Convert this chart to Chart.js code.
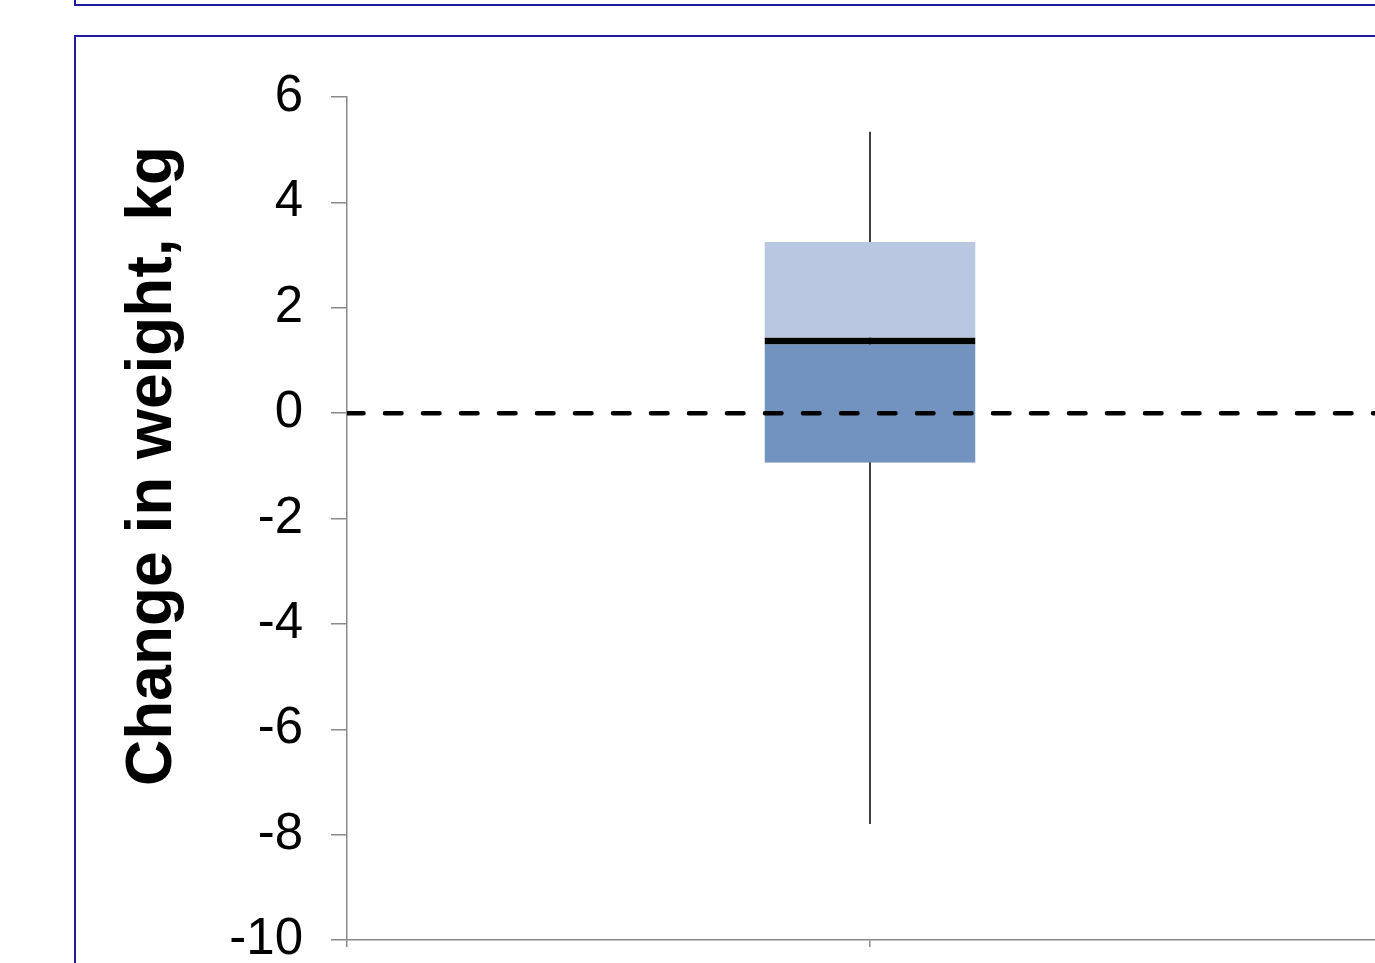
<!DOCTYPE html>
<html>
<head>
<meta charset="utf-8">
<script src="https://cdn.jsdelivr.net/npm/chart.js@4.4.1/dist/chart.umd.min.js"></script>
<style>
    html, body { margin: 0; padding: 0; background: #fff; overflow: hidden; width: 1375px; height: 963px; }
    .frame { position: absolute; border: 2px solid #1c1c9c; box-sizing: border-box; }
    #frameTop { left: 74px; top: -100px; width: 2000px; height: 106px; }
    #frameMain { left: 74px; top: 35px; width: 2000px; height: 2000px; }
    #boxChart { position: absolute; left: 0; top: 0; }
</style>
</head>
<body>
<div class="frame" id="frameTop"></div>
<div class="frame" id="frameMain"></div>
<canvas id="boxChart" width="1413" height="1000"></canvas>
<script>
// values
const boxPositions = [1];
const lowerQuartile = [-0.94];
const medianValues = [1.37];
const upperQuartile = [3.25];
const whiskerLow = [-7.8];
const whiskerHigh = [5.34];
const referenceValue = 0;
const yTickValues = [-10, -8, -6, -4, -2, 0, 2, 4, 6];
const yTitle = 'Change in weight, kg';

const axisGrey = '#898989';

// y axis title sits a little above the axis middle, so it is drawn by hand
const axisTitle = {
    id: 'axisTitle',
    afterDraw(chart) {
        const ctx = chart.ctx;
        ctx.save();
        ctx.translate(171, 466);
        ctx.rotate(-Math.PI / 2);
        ctx.font = 'bold 64px "Liberation Sans", Arial, sans-serif';
        ctx.fillStyle = '#000';
        ctx.textAlign = 'center';
        ctx.textBaseline = 'alphabetic';
        ctx.fillText(yTitle, 0, 0);
        ctx.restore();
    }
};

const boxCtx = document.getElementById('boxChart').getContext('2d');
new Chart(boxCtx, {
    type: 'bar',
    data: {
        datasets: [
            {
                type: 'line',
                label: 'Zero',
                data: [{ x: 0, y: referenceValue }, { x: 2, y: referenceValue }],
                borderColor: '#000',
                borderWidth: 4.5,
                borderDash: [16.5, 21.5],
                borderCapStyle: 'round',
                pointRadius: 0,
                order: 0
            },
            {
                label: 'Lower box',
                data: boxPositions.map((p, i) => ({ x: p, y: [lowerQuartile[i], medianValues[i]] })),
                backgroundColor: '#7293bf',
                borderColor: '#000',
                borderWidth: { top: 3.5, right: 0, bottom: 0, left: 0 },
                borderSkipped: false,
                inflateAmount: 0,
                barThickness: 211,
                grouped: false,
                order: 1
            },
            {
                label: 'Upper box',
                data: boxPositions.map((p, i) => ({ x: p, y: [medianValues[i], upperQuartile[i]] })),
                backgroundColor: '#b9c7e1',
                borderColor: '#000',
                borderWidth: { top: 0, right: 0, bottom: 3.5, left: 0 },
                borderSkipped: false,
                inflateAmount: 0,
                barThickness: 211,
                grouped: false,
                order: 1
            },
            {
                type: 'line',
                label: 'Whisker',
                data: [{ x: boxPositions[0], y: whiskerLow[0] }, { x: boxPositions[0], y: whiskerHigh[0] }],
                borderColor: '#000',
                borderWidth: 1.5,
                pointRadius: 0,
                order: 2
            }
        ]
    },
    options: {
        responsive: false,
        animation: false,
        layout: { padding: { top: 97, right: 20, bottom: 0, left: 0 } },
        plugins: { legend: { display: false }, tooltip: { enabled: false } },
        scales: {
            x: {
                type: 'linear',
                min: 0,
                max: 2,
                offset: false,
                ticks: { display: false, stepSize: 1 },
                grid: { offset: false, drawOnChartArea: false, drawTicks: true, tickLength: 7, color: axisGrey, lineWidth: 1.5 },
                border: { color: axisGrey, width: 1.5 },
                afterFit: (scale) => { scale.height = 60; }
            },
            y: {
                min: -10,
                max: 6,
                afterBuildTicks: (scale) => { scale.ticks = yTickValues.map(v => ({ value: v })); },
                ticks: {
                    color: '#000',
                    padding: 28,
                    font: { family: '"Liberation Sans", Arial, sans-serif', size: 51 }
                },
                grid: { drawOnChartArea: false, drawTicks: true, tickLength: 16, color: axisGrey, lineWidth: 1.5 },
                border: { color: axisGrey, width: 1.5 },
                afterFit: (scale) => { scale.width = 347; }
            }
        }
    },
    plugins: [axisTitle]
});
</script>
</body>
</html>
